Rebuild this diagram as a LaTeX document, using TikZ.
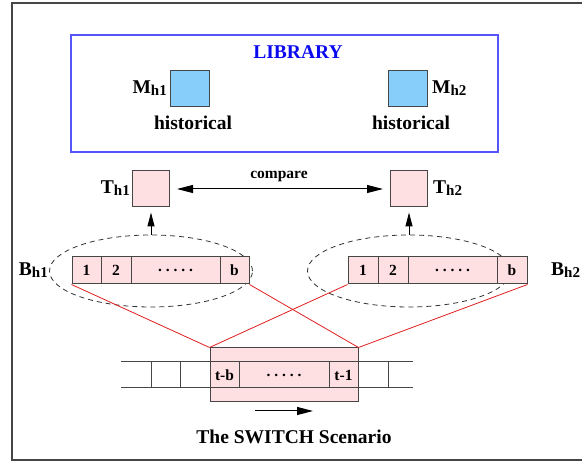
\documentclass[tikz,border=0pt]{standalone}
\usepackage{fontspec}
\setmainfont{Liberation Serif}
\usetikzlibrary{arrows.meta,shapes.geometric}
\definecolor{libblue}{RGB}{85,85,250}
\definecolor{txtblue}{RGB}{10,10,240}
\definecolor{mblue}{RGB}{135,206,250}
\definecolor{pinkf}{RGB}{255,224,226}
\definecolor{edgec}{RGB}{70,70,70}
\definecolor{redl}{RGB}{225,30,30}
\newcommand\bigf{\fontsize{19.5}{20}\selectfont\bfseries}
\newcommand\smf{\fontsize{15.5}{16}\selectfont\bfseries}
\newcommand\lbl[2]{{\bigf #1}\raisebox{-2.5pt}{\fontsize{15}{15}\selectfont\bfseries #2}}
\newcommand\fivedots{.\ .\ .\ .\ .}
\tikzset{
  mbox/.style={draw=edgec, fill=mblue, line width=1pt, minimum width=39pt, minimum height=36pt, inner sep=0pt},
  tbox/.style={draw=edgec, fill=pinkf, line width=1pt, minimum width=37pt, minimum height=36pt, inner sep=0pt},
  cell/.style={draw=edgec, fill=pinkf, line width=1pt, minimum height=27pt, inner sep=0pt, font=\smf},
  lab/.style={inner sep=0pt, font=\bigf},
  smlab/.style={inner sep=0pt, font=\smf},
  grp/.style={ellipse, draw=black!80, dash pattern=on 5pt off 4pt, line width=0.8pt, minimum width=203pt, minimum height=72pt, inner sep=0pt},
  redline/.style={draw=redl, line width=0.8pt},
  bigarrow/.style={line width=1pt, -{Triangle[length=16pt,width=8pt]}},
  uparrow/.style={line width=1pt, -{Triangle[length=14pt,width=7pt]}, shorten >=5pt},
}
\begin{document}
\begin{tikzpicture}[x=1pt,y=-1pt]
\useasboundingbox (0,0) rectangle (582,462);
% outer frame
\draw[edgec, line width=1.5pt] (582,3) -- (12,3) -- (12,460) -- (582,460);
% library
\node[draw=libblue, line width=1.2pt, minimum width=427pt, minimum height=117pt, inner sep=0pt] (lib) at (284.5,93.5) {};
\node[lab, text=txtblue] (libt) at (298,52) {LIBRARY};
\node[mbox] (M1) at (189.5,89) {};
\node[mbox] (M2) at (407.5,89) {};
\node[inner sep=0pt, anchor=east] (M1l) at (167,88) {\lbl{M}{h1}};
\node[inner sep=0pt, anchor=west] (M2l) at (432,88) {\lbl{M}{h2}};
\node[lab] (h1) at (193,123) {historical};
\node[lab] (h2) at (411,123) {historical};
% T boxes
\node[tbox] (T1) at (151,189) {};
\node[tbox] (T2) at (409,189) {};
\node[inner sep=0pt, anchor=east] (T1l) at (130,188) {\lbl{T}{h1}};
\node[inner sep=0pt, anchor=west] (T2l) at (433,188) {\lbl{T}{h2}};
\draw[line width=1pt, {Triangle[length=16pt,width=8pt]}-{Triangle[length=16pt,width=8pt]}, shorten <=7pt, shorten >=7pt] (T1) -- (T2);
\node[smlab] (cmp) at (279,176) {compare};
% ellipses
\node[grp] (eL) at (151,271) {};
\node[grp] (eR) at (409,271) {};
\draw[uparrow] (eL.north) -- (T1.south);
\draw[uparrow] (eR.north) -- (T2.south);
\node[inner sep=0pt, anchor=east] (Bl1) at (48,270) {\lbl{B}{h1}};
\node[inner sep=0pt, anchor=west] (Bl2) at (551,270) {\lbl{B}{h2}};
% buffers
\node[cell, minimum width=29pt] (L1) at (86.5,270.5) {1};
\node[cell, minimum width=30pt] (L2) at (116,270.5) {2};
\node[cell, minimum width=89pt] (Ld) at (175.5,270.5) {\fivedots};
\node[cell, minimum width=29pt] (Lb) at (234.5,270.5) {b};
\node[cell, minimum width=30pt] (R1) at (363,270.5) {1};
\node[cell, minimum width=30pt] (R2) at (393,270.5) {2};
\node[cell, minimum width=89pt] (Rd) at (452.5,270.5) {\fivedots};
\node[cell, minimum width=30pt] (Rb) at (512,270.5) {b};
% window
\node[draw=edgec, fill=pinkf, line width=1pt, minimum width=148pt, minimum height=54pt, inner sep=0pt] (win) at (284,375) {};
\draw[redline] (L1.south west) -- (win.north west);
\draw[redline] (Lb.south east) -- (win.north east);
\draw[redline] (R1.south west) -- (win.north west);
\draw[redline] (Rb.south east) -- (win.north east);
% tape
\draw[edgec, line width=1pt] (121,362) -- (413,362) (121,388) -- (413,388);
\foreach \x in {151,180,239,329,388} \draw[edgec, line width=1pt] (\x,362) -- (\x,388);
\node[smlab] (tb) at (224.5,375) {t-b};
\node[smlab] (td) at (284,375) {\fivedots};
\node[smlab] (t1) at (343.5,375) {t-1};
\coordinate (a1) at (255,411);
\coordinate (a2) at (313,411);
\draw[bigarrow] (a1) -- (a2);
\node[lab] (title) at (294,437) {The SWITCH Scenario};
\end{tikzpicture}
\end{document}
